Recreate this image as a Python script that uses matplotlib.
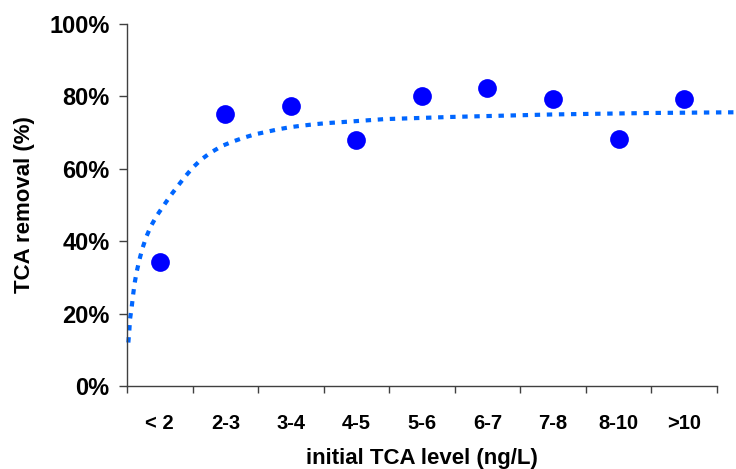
import matplotlib
matplotlib.use('Agg')
import matplotlib.pyplot as plt
from matplotlib.ticker import FixedLocator, PercentFormatter

plt.rcParams['font.family'] = ['Liberation Sans', 'DejaVu Sans']
plt.rcParams['font.weight'] = 'bold'

# ── data ─────────────────────────────────────────
categories = ['< 2', '2-3', '3-4', '4-5', '5-6', '6-7', '7-8', '8-10', '>10']
removal = [34.2, 75.2, 77.2, 68.0, 80.1, 82.4, 79.2, 68.1, 79.2]

# dotted trend curve, x in category units (1 = first category)
trend_x = [0.52, 0.535, 0.546, 0.572, 0.592, 0.617, 0.648, 0.688, 0.733, 0.794,
           0.866, 0.953, 1.054, 1.16, 1.273, 1.385, 1.502, 1.629, 1.771, 1.949,
           2.112, 2.285, 2.452, 2.631, 2.808, 2.997, 3.169, 3.368, 3.546, 3.876,
           4.42, 5.43, 7.0, 8.48, 9.81]
trend_y = [12.0, 15.3, 18.5, 21.9, 25.1, 28.5, 31.6, 34.8, 37.9, 41.2,
           44.2, 47.0, 49.7, 52.5, 55.2, 57.8, 60.3, 62.5, 64.4, 66.3,
           67.5, 68.6, 69.5, 70.2, 70.9, 71.5, 71.9, 72.3, 72.6, 73.0,
           73.7, 74.3, 75.0, 75.4, 75.6]

# ── plot ─────────────────────────────────────────
fig = plt.figure(figsize=(7.36, 4.69), dpi=100)
ax = fig.add_axes([0.1726, 0.177, 0.8014, 0.772])

pos = list(range(1, len(categories) + 1))
ax.plot(trend_x, trend_y, color='#0066FF', linewidth=3.0,
        linestyle=(0, (1.3, 1.6)), clip_on=False, zorder=2)
ax.plot(pos, removal, 'o', color='#0000FF', markersize=13.5,
        markeredgewidth=0, zorder=3)

ax.set_xlim(0.5, len(categories) + 0.5)
ax.set_ylim(0, 100)

ax.set_yticks([0, 20, 40, 60, 80, 100])
ax.yaxis.set_major_formatter(PercentFormatter(decimals=0))
ax.tick_params(axis='y', direction='out', length=6, width=1, color='#404040',
               labelsize=17, pad=6.5)

ax.set_xticks(pos)
ax.set_xticklabels(categories)
ax.xaxis.set_minor_locator(FixedLocator([p + 0.5 for p in range(0, len(categories) + 1)]))
ax.tick_params(axis='x', which='major', length=0, labelsize=14.5, pad=20)
ax.tick_params(axis='x', which='minor', direction='out', length=5, width=1, color='#404040')

for side in ['top', 'right']:
    ax.spines[side].set_visible(False)
for side in ['left', 'bottom']:
    ax.spines[side].set_color('#404040')
    ax.spines[side].set_linewidth(1)

ax.set_xlabel('initial TCA level (ng/L)', fontsize=16, fontweight='bold', labelpad=11)
ax.set_ylabel('TCA removal (%)', fontsize=16, fontweight='bold', labelpad=10)

fig.savefig('out.png', dpi=100)
